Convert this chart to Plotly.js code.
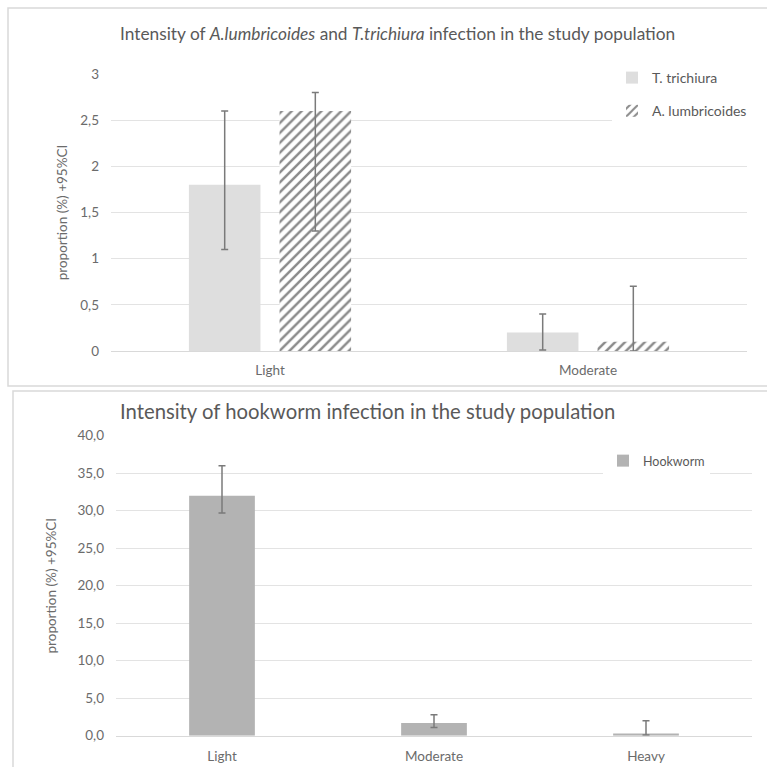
<!DOCTYPE html>
<html>
<head>
<meta charset="utf-8">
<script src="https://cdn.plot.ly/plotly-3.0.1.min.js"></script>
<style>html,body{margin:0;padding:0;background:#fff;}#chart{width:767px;height:767px;}</style>
</head>
<body>
<div id="chart"></div>
<script>
// ---- Data ----
const topCategories = ["Light", "Moderate"];
const trichiuraValues = [1.8, 0.2];
const trichiuraErrPlus = [0.8, 0.2];
const trichiuraErrMinus = [0.7, 0.19];
const lumbricoidesValues = [2.6, 0.1];
const lumbricoidesErrPlus = [0.2, 0.6];
const lumbricoidesErrMinus = [1.3, 0.1];
const topTickVals = [0, 0.5, 1, 1.5, 2, 2.5, 3];
const topTickText = ["0", "0,5", "1", "1,5", "2", "2,5", "3"];

const bottomCategories = ["Light", "Moderate", "Heavy"];
const hookwormValues = [32.0, 1.7, 0.3];
const hookwormErrPlus = [4.0, 1.1, 1.7];
const hookwormErrMinus = [2.3, 0.6, 0.2];
const bottomTickVals = [0, 5, 10, 15, 20, 25, 30, 35, 40];
const bottomTickText = ["0,0", "5,0", "10,0", "15,0", "20,0", "25,0", "30,0", "35,0", "40,0"];

// ---- Styling ----
const FONT = "Lato, 'Open Sans', sans-serif";
const txt = "#6b6b6b";
const grid = "#e3e3e3";
const errStyle = (plus, minus) => ({type: "data", array: plus, arrayminus: minus, visible: true,
  color: "#7a7a7a", thickness: 1.5, width: 3.5});

const traces = [
  {type: "bar", name: "T. trichiura", x: topCategories, y: trichiuraValues,
   xaxis: "x", yaxis: "y", legend: "legend", legendgroup: "a",
   offset: -0.255, width: 0.225,
   marker: {color: "#dedede", line: {width: 0}},
   error_y: errStyle(trichiuraErrPlus, trichiuraErrMinus), hoverinfo: "skip"},
  {type: "bar", name: "A. lumbricoides", x: topCategories, y: lumbricoidesValues,
   xaxis: "x", yaxis: "y", legend: "legend", legendgroup: "b",
   offset: 0.03, width: 0.225,
   marker: {color: "#ffffff", line: {width: 0},
     pattern: {shape: "/", fgcolor: "#8a8a8a", bgcolor: "#ffffff", size: 7, solidity: 0.35}},
   error_y: errStyle(lumbricoidesErrPlus, lumbricoidesErrMinus), hoverinfo: "skip"},
  {type: "bar", name: "Hookworm", x: bottomCategories, y: hookwormValues,
   xaxis: "x2", yaxis: "y2", legend: "legend2",
   offset: -0.155, width: 0.31,
   marker: {color: "#b3b3b3", line: {width: 0}},
   error_y: errStyle(hookwormErrPlus, hookwormErrMinus), hoverinfo: "skip"}
];

const layout = {
  width: 767, height: 767,
  margin: {l: 0, r: 0, t: 0, b: 0},
  paper_bgcolor: "#ffffff", plot_bgcolor: "#ffffff",
  font: {family: FONT, color: txt, size: 13},
  separators: ", ",
  barmode: "overlay",
  title: {text: "Intensity of <i>A.lumbricoides</i> and <i>T.trichiura</i> infection in the study population",
    x: 120/767, xanchor: "left", xref: "paper", y: 1 - 34/767, yanchor: "middle", yref: "paper",
    font: {family: FONT, size: 17.3, color: "#595959"}},
  xaxis: {domain: [111/767, 747/767], anchor: "y", type: "category",
    range: [-0.5, 1.5], showgrid: false, zeroline: false, showline: true, linecolor: "#d9d9d9",
    ticks: "", tickfont: {size: 13.5, color: txt}, ticklabelstandoff: 7, fixedrange: true},
  yaxis: {domain: [1 - 351/767, 1 - 74/767], anchor: "x", range: [0, 3],
    tickvals: topTickVals, ticktext: topTickText, showgrid: true, gridcolor: grid, gridwidth: 1,
    zeroline: false, showline: false, ticks: "", ticklabelstandoff: 11,
    tickfont: {size: 13.5, color: txt},
    title: {text: "proportion (%) +95%CI", font: {size: 13.5, color: txt}, standoff: 9}},
  xaxis2: {domain: [116/767, 752/767], anchor: "y2", type: "category",
    range: [-0.5, 2.5], showgrid: false, zeroline: false, showline: true, linecolor: "#d9d9d9",
    ticks: "", tickfont: {size: 13.5, color: txt}, ticklabelstandoff: 8},
  yaxis2: {domain: [1 - 735.7/767, 1 - 435.7/767], anchor: "x2", range: [0, 40],
    tickvals: bottomTickVals, ticktext: bottomTickText, showgrid: true, gridcolor: grid, gridwidth: 1,
    zeroline: false, showline: false, ticks: "", ticklabelstandoff: 11,
    tickfont: {size: 13.5, color: txt},
    title: {text: "proportion (%) +95%CI", font: {size: 13.5, color: txt}, standoff: 17}},
  legend: {x: 612/767, xanchor: "left", y: 1 - 62/767, yanchor: "top",
    bgcolor: "#ffffff", font: {size: 14, color: "#595959"}, tracegroupgap: 12,
    itemwidth: 30, traceorder: "grouped"},
  legend2: {x: 603/767, xanchor: "left", y: 1 - 446/767, yanchor: "top",
    bgcolor: "#ffffff", font: {size: 12.5, color: "#595959"}, itemwidth: 30},
  annotations: [
    {text: "Intensity of hookworm infection in the study population", xref: "paper", yref: "paper",
     x: 118/767, xanchor: "left", y: 1 - 411/767, yanchor: "middle", showarrow: false,
     font: {family: FONT, size: 20.3, color: "#595959"}}
  ],
  shapes: [
    {type: "rect", xref: "paper", yref: "paper", x0: 8/767, x1: 1.01, y0: 1 - 386/767, y1: 1 - 8/767,
     line: {color: "#d9d9d9", width: 1.5}, fillcolor: "rgba(0,0,0,0)", layer: "below"},
    {type: "rect", xref: "paper", yref: "paper", x0: 13/767, x1: 1.01, y0: -0.01, y1: 1 - 391/767,
     line: {color: "#d9d9d9", width: 1.5}, fillcolor: "rgba(0,0,0,0)", layer: "below"}
  ],
  showlegend: true
};

Plotly.newPlot("chart", traces, layout, {staticPlot: true, displayModeBar: false});
</script>
</body>
</html>
